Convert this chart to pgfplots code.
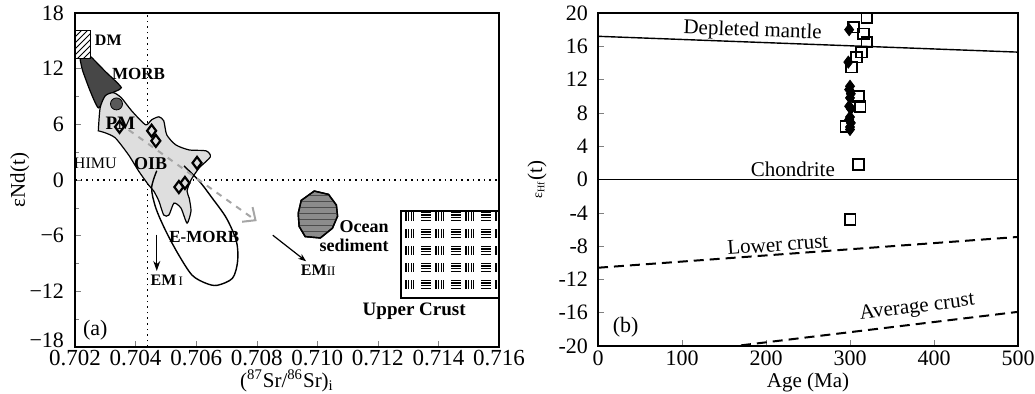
\documentclass[border=0pt]{standalone}
\usepackage{pgfplots}
\pgfplotsset{compat=1.18}
\usepackage{fontspec}
\setmainfont{Liberation Serif}
\usetikzlibrary{arrows.meta,patterns}

\pgfdeclarepatternformonly{crust}{\pgfpoint{-0.5pt}{-0.5pt}}{\pgfpoint{15.5pt}{9pt}}{\pgfpoint{15pt}{8.5pt}}{%
  \pgfsetlinewidth{0.55pt}%
  \pgfpathmoveto{\pgfpoint{0.5pt}{1.9pt}}\pgfpathlineto{\pgfpoint{5.5pt}{1.9pt}}%
  \pgfpathmoveto{\pgfpoint{0.5pt}{3.2pt}}\pgfpathlineto{\pgfpoint{5.5pt}{3.2pt}}%
  \pgfpathmoveto{\pgfpoint{0.5pt}{4.5pt}}\pgfpathlineto{\pgfpoint{5.5pt}{4.5pt}}%
  \pgfpathmoveto{\pgfpoint{0.5pt}{5.8pt}}\pgfpathlineto{\pgfpoint{5.5pt}{5.8pt}}%
  \pgfpathmoveto{\pgfpoint{8.0pt}{1.6pt}}\pgfpathlineto{\pgfpoint{8.0pt}{6.1pt}}%
  \pgfpathmoveto{\pgfpoint{9.3pt}{1.6pt}}\pgfpathlineto{\pgfpoint{9.3pt}{6.1pt}}%
  \pgfpathmoveto{\pgfpoint{10.6pt}{1.6pt}}\pgfpathlineto{\pgfpoint{10.6pt}{6.1pt}}%
  \pgfpathmoveto{\pgfpoint{11.9pt}{1.6pt}}\pgfpathlineto{\pgfpoint{11.9pt}{6.1pt}}%
  \pgfusepath{stroke}%
}

\begin{document}
\begin{tikzpicture}
\useasboundingbox (0,0) rectangle (517.5pt,197pt);
% ---------------- (a) ----------------
\begin{axis}[
  at={(37.5pt,23.5pt)}, anchor=south west,
  scale only axis, width=212pt, height=167pt,
  xmin=0.702, xmax=0.716, ymin=-18, ymax=18,
  axis line style={line width=0.9pt},
  tick pos=left, tick align=inside,
  major tick length=3pt, minor tick length=2pt,
  xtick={0.702,0.704,0.706,0.708,0.710,0.712,0.714,0.716},
  xticklabels={0.702,0.704,0.706,0.708,0.710,0.712,0.714,0.716},
  scaled x ticks=false,
  ytick={-18,-12,-6,0,6,12,18},
  yticklabels={\raisebox{7pt}{−18},−12,−6,0,6,12,18},
  minor y tick num=1,
  tick label style={font=\fontsize{11}{12}\selectfont},
  xticklabel style={inner sep=1.5pt, font=\fontsize{11.5}{12}\selectfont},
  yticklabel style={xshift=-2pt},
  xlabel={(\textsuperscript{87}Sr/\textsuperscript{86}Sr)\textsubscript{i}},
  ylabel={εNd(t)},
  label style={font=\fontsize{10.5}{12}\selectfont},
  xlabel style={at={(axis description cs:0.5,-0.1)}, anchor=center},
  ylabel style={at={(axis description cs:-0.13,0.5)}, anchor=center},
  clip=true,
]
% reference lines
\addplot[black, dotted, line width=0.8pt] coordinates {(0.7044,-18) (0.7044,18)};
\addplot[black, dotted, line width=0.8pt] coordinates {(0.702,0) (0.716,0)};
% MORB field
\addplot[draw=black, fill=black!72, line width=0.6pt, smooth, tension=0.3] coordinates {
 (0.70217,12.97) (0.70237,13.73) (0.70300,11.7) (0.70353,9.95) (0.70310,9.19)
 (0.70277,7.78) (0.70250,9.6) (0.70225,11.8) (0.70217,12.97)} -- cycle;
% OIB field
\addplot[draw=black, fill=black!13, line width=0.6pt, smooth, tension=0.4] coordinates {
 (0.70277,5.30) (0.70283,7.78) (0.70300,9.08) (0.70327,9.41) (0.70353,8.86)
 (0.70387,7.46) (0.70433,5.95) (0.70453,6.49) (0.70477,6.81) (0.70493,6.38)
 (0.70503,4.86) (0.70533,3.78) (0.70577,3.24) (0.70633,3.14) (0.70647,2.49)
 (0.70610,1.30) (0.70583,0.00) (0.70570,-1.19) (0.70577,-1.95) (0.70583,-3.35)
 (0.70570,-4.65) (0.70550,-3.03) (0.70527,-2.49) (0.70510,-3.78) (0.70493,-3.78)
 (0.70477,-2.27) (0.70460,-1.19) (0.70443,-0.54) (0.70410,0.97) (0.70377,2.70)
 (0.70333,4.54) (0.70300,5.08) (0.70277,5.30)} -- cycle;
% E-MORB field
\addplot[draw=black, line width=0.7pt, smooth, tension=0.5] coordinates {
 (0.70560,1.51) (0.70610,-0.11) (0.70653,-1.95) (0.70700,-4.11) (0.70733,-6.59)
 (0.70737,-8.76) (0.70720,-10.59) (0.70670,-11.35) (0.70633,-11.14) (0.70587,-10.27)
 (0.70543,-8.11) (0.70500,-5.51) (0.70467,-3.03) (0.70453,-0.86) (0.70470,1.0)};
% DM box
\addplot[draw=black, fill=white, line width=0.6pt, postaction={pattern=north east lines}] coordinates {
 (0.7020,13.1) (0.7025,13.1) (0.7025,16.1) (0.7020,16.1)} -- cycle;
% Ocean sediment
\addplot[draw=black, fill=black!45, line width=0.7pt, postaction={pattern=horizontal lines, pattern color=black!70}] coordinates {
 (0.70990,-1.19) (0.71037,-1.55) (0.71063,-2.7) (0.71067,-3.9) (0.71050,-5.2)
 (0.71010,-6.25) (0.70960,-6.1) (0.70940,-5.0) (0.70937,-3.6) (0.70947,-2.2)} -- cycle;
% Upper crust
\addplot[draw=black, fill=white, line width=0.9pt, postaction={pattern=crust}] coordinates {
 (0.71277,-3.35) (0.7160,-3.35) (0.7160,-12.76) (0.71277,-12.76)} -- cycle;
% arrows
\addplot[black!35, dashed, line width=1pt, -{Straight Barb[length=5pt,width=9pt]}] coordinates {(0.70377,5.4) (0.7080,-4.43)};
\addplot[black, line width=0.6pt, -{Stealth[length=4pt,width=3pt]}] coordinates {(0.70853,-5.95) (0.70963,-8.76)};
\addplot[black, line width=0.6pt, -{Stealth[length=5pt,width=3.5pt]}] coordinates {(0.7047,-5.9) (0.7047,-9.8)};
% PM
\addplot[only marks, mark=*, mark size=3pt, mark options={fill=black!65, draw=black}] coordinates {(0.70337,8.2)};
% samples
\addplot[only marks, mark=diamond, mark size=3pt, mark options={draw=black, line width=1.1pt, fill=white}] coordinates {
 (0.70347,5.73) (0.70453,5.30) (0.70467,4.22) (0.70603,1.84) (0.70563,-0.32) (0.70543,-0.76)};
% labels
\node[font=\fontsize{8}{9}\selectfont\bfseries] at (axis cs:0.7031,15.03) {DM};
\node[font=\fontsize{8.5}{9}\selectfont\bfseries] at (axis cs:0.7041,11.46) {MORB};
\node[font=\fontsize{9.5}{10}\selectfont\bfseries] at (axis cs:0.7035,6.16) {PM};
\node[font=\fontsize{8}{9}\selectfont] at (axis cs:0.70267,1.84) {HIMU};
\node[font=\fontsize{9}{10}\selectfont\bfseries] at (axis cs:0.7045,1.73) {OIB};
\node[font=\fontsize{8.5}{9}\selectfont\bfseries] at (axis cs:0.70627,-6.16) {E-MORB};
\node[font=\fontsize{8}{9}\selectfont\bfseries] at (axis cs:0.70503,-10.81) {EM{\fontsize{6.5}{7}\selectfont\mdseries\,I}};
\node[font=\fontsize{8}{9}\selectfont\bfseries] at (axis cs:0.71003,-9.73) {EM{\fontsize{6.5}{7}\selectfont\mdseries II}};
\node[font=\fontsize{9}{9.5}\selectfont\bfseries, align=right, anchor=east, inner sep=0pt] at (axis cs:0.71237,-6.05) {Ocean\\sediment};
\node[font=\fontsize{9.5}{10}\selectfont\bfseries] at (axis cs:0.7132,-14.16) {Upper Crust};
\node[font=\fontsize{11}{12}\selectfont] at (axis cs:0.70267,-16.22) {(a)};
\end{axis}
% ---------------- (b) ----------------
\begin{axis}[
  at={(299pt,24pt)}, anchor=south west,
  scale only axis, width=210pt, height=166.5pt,
  xmin=0, xmax=500, ymin=-20, ymax=20,
  axis line style={line width=0.9pt},
  tick pos=left, tick align=inside,
  major tick length=3pt,
  xtick={0,100,...,500},
  ytick={-20,-16,...,20},
  /pgf/number format/assume math mode=true,
  tick label style={font=\fontsize{11}{12}\selectfont},
  xticklabel style={inner sep=2pt},
  yticklabel style={xshift=-1.5pt},
  xlabel={Age (Ma)},
  ylabel={{\fontsize{7}{8}\selectfont ε\textsubscript{Hf}}(t)},
  label style={font=\fontsize{10.5}{12}\selectfont},
  xlabel style={at={(axis description cs:0.5,-0.11)}, anchor=center},
  ylabel style={at={(axis description cs:-0.145,0.5)}, anchor=center},
  clip=true,
]
\addplot[black, line width=0.7pt] coordinates {(0,17.2) (500,15.3)};
\addplot[black, line width=0.8pt] coordinates {(0,0) (500,0)};
\addplot[black, dashed, line width=1pt, dash pattern=on 5pt off 3pt] coordinates {(0,-10.6) (500,-6.9)};
\addplot[black, dashed, line width=1pt, dash pattern=on 5pt off 3pt] coordinates {(0,-22.0) (500,-15.9)};
\addplot[only marks, mark=diamond*, mark size=3pt, mark options={fill=black, draw=black}] coordinates {
 (299,18.0) (298,14.1) (300,11.2) (299,10.8) (301,10.3) (300,9.8) (299,8.8) (301,8.5)
 (300,7.5) (299,7.2) (301,6.8) (300,6.3) (300,6.0)};
\addplot[only marks, mark=square, mark size=2.7pt, mark options={draw=black, line width=0.9pt, fill=white}] coordinates {
 (320,19.4) (304,18.3) (316,17.5) (320,16.5) (314,15.3) (308,14.7) (302,13.5)
 (310,10.0) (312,8.8) (295,6.4) (310,1.8) (300,-4.8)};
\node[font=\fontsize{10.5}{12}\selectfont, rotate=-2] at (axis cs:184,17.8) {Depleted mantle};
\node[font=\fontsize{10.5}{12}\selectfont] at (axis cs:232,1.2) {Chondrite};
\node[font=\fontsize{10.5}{12}\selectfont, rotate=4] at (axis cs:214,-7.8) {Lower crust};
\node[font=\fontsize{10.5}{12}\selectfont, rotate=7] at (axis cs:380,-15.4) {Average crust};
\node[font=\fontsize{11}{12}\selectfont] at (axis cs:33,-17.7) {(b)};
\end{axis}
\end{tikzpicture}
\end{document}
